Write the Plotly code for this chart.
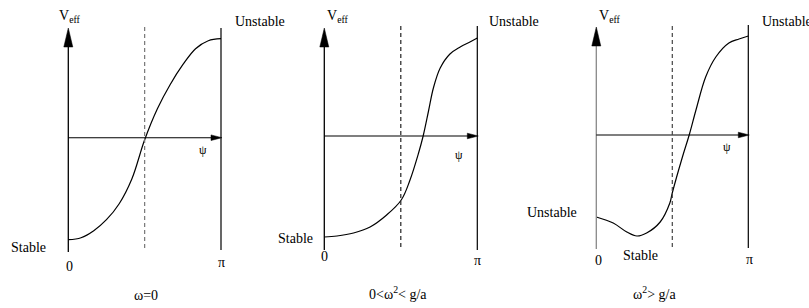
import math
import plotly.graph_objects as go

# ---------------- data ----------------
psi1 = [0, 0.262, 0.524, 0.785, 1.047, 1.309, 1.571, 1.833, 2.094, 2.356, 2.618, 2.880, 3.1416]
v1 = [-1.02, -1.00, -0.93, -0.82, -0.66, -0.41, -0.02, 0.29, 0.53, 0.73, 0.89, 0.97, 0.99]

psi2 = [0, 0.26, 0.60, 0.94, 1.28, 1.58, 1.76, 1.93, 2.03, 2.14, 2.24, 2.38, 2.58, 2.79, 2.99, 3.1416]
v2 = [-1.01, -1.0, -0.97, -0.91, -0.79, -0.64, -0.44, -0.18, 0.0, 0.25, 0.48, 0.68, 0.82, 0.89, 0.94, 0.98]

psi3 = [0, 0.35, 0.63, 0.84, 1.04, 1.32, 1.52, 1.57, 1.78, 1.92, 2.06, 2.26, 2.47, 2.74, 2.95, 3.1416]
v3 = [-0.82, -0.88, -0.97, -1.01, -0.98, -0.87, -0.68, -0.58, -0.22, 0.0, 0.25, 0.58, 0.78, 0.92, 0.96, 0.99]

captions = ["ω=0", "0&lt;ω<sup>2</sup>&lt; g/a", "ω<sup>2</sup>&gt; g/a"]
tick_left = "0"
tick_right = "π"
dashed_at = math.pi / 2

# ---------------- layout geometry (pixels) ----------------
W, H = 809, 308
FONT = "Liberation Serif"
panels = [
    dict(x0=68.3, xp=221.0, z=137.7, tip=28, ybot=252, rtop=28, rbot=250, dtop=27, dbot=248,
         yaxcol="#000", dcol="#777", psi=psi1, v=v1),
    dict(x0=324.3, xp=477.3, z=136.0, tip=28, ybot=250, rtop=26, rbot=250, dtop=26, dbot=247,
         yaxcol="#000", dcol="#222", psi=psi2, v=v2),
    dict(x0=596.3, xp=748.3, z=135.0, tip=27, ybot=249, rtop=25, rbot=248, dtop=25, dbot=247,
         yaxcol="#888", dcol="#444", psi=psi3, v=v3),
]
YS = 100.0  # pixels per unit of V

fig = go.Figure()
shapes = []
layout_axes = {}

for i, p in enumerate(panels):
    k = "" if i == 0 else str(i + 1)
    xr, yr = "x" + k, "y" + k
    s = (p["xp"] - p["x0"]) / math.pi
    z = p["z"]
    layout_axes["xaxis" + k] = dict(domain=[0, 1], range=[-p["x0"] / s, (W - p["x0"]) / s],
                                    visible=False, fixedrange=True, anchor=yr)
    layout_axes["yaxis" + k] = dict(domain=[0, 1], range=[-(H - z) / YS, z / YS],
                                    visible=False, fixedrange=True, anchor=xr)

    def X(px, s=s, p=p):
        return (px - p["x0"]) / s

    def Y(py, z=z):
        return (z - py) / YS

    fig.add_trace(go.Scatter(x=p["psi"], y=p["v"], mode="lines", xaxis=xr, yaxis=yr,
                             line=dict(color="black", width=1.2, shape="spline", smoothing=1.0),
                             hoverinfo="skip", showlegend=False))

    # vertical axis (V_eff) with filled arrow head
    shapes.append(dict(type="line", xref=xr, yref=yr, x0=0, x1=0, y0=Y(p["ybot"]), y1=Y(p["tip"] + 18),
                       line=dict(color=p["yaxcol"], width=1.3)))
    shapes.append(dict(type="path", xref=xr, yref=yr,
                       path=f"M {X(p['x0']-4.5)},{Y(p['tip']+19)} L {0},{Y(p['tip'])} L {X(p['x0']+4.5)},{Y(p['tip']+19)} Z",
                       fillcolor="black", line=dict(color="black", width=0.5)))
    # horizontal psi axis with arrow head
    shapes.append(dict(type="line", xref=xr, yref=yr, x0=0, x1=X(p["xp"] - 6), y0=0, y1=0,
                       line=dict(color="black", width=1.1)))
    shapes.append(dict(type="path", xref=xr, yref=yr,
                       path=f"M {X(p['xp']-10)},{Y(z-2.8)} L {X(p['xp']+1)},{0} L {X(p['xp']-10)},{Y(z+2.8)} Z",
                       fillcolor="black", line=dict(color="black", width=0.5)))
    # vertical line at psi = pi
    shapes.append(dict(type="line", xref=xr, yref=yr, x0=math.pi, x1=math.pi,
                       y0=Y(p["rbot"]), y1=Y(p["rtop"]), line=dict(color="black", width=1.2)))
    # dashed line at psi = pi/2
    shapes.append(dict(type="line", xref=xr, yref=yr, x0=dashed_at, x1=dashed_at,
                       y0=Y(p["dbot"]), y1=Y(p["dtop"]),
                       line=dict(color=p["dcol"], width=1.2, dash="4px,3px")))

fig.update_layout(**layout_axes)


def ann(text, px, py, size=14, xanchor="center", yanchor="middle"):
    fig.add_annotation(text=text, x=px / W, y=1 - py / H, xref="paper", yref="paper",
                       showarrow=False, xanchor=xanchor, yanchor=yanchor,
                       font=dict(family=FONT, size=size, color="black"))


# panel 1
ann("V<sub>eff</sub>", 57, 16, xanchor="left")
ann("Unstable", 233, 22, xanchor="left")
ann("Stable", 28, 247)
ann(tick_left, 69, 266)
ann(tick_right, 221, 262)
ann("ψ", 203, 150, size=12)
ann(captions[0], 146, 295)
# panel 2
ann("V<sub>eff</sub>", 325, 16, xanchor="left")
ann("Unstable", 487, 22, xanchor="left")
ann("Stable", 295, 238)
ann(tick_left, 324, 256)
ann(tick_right, 477, 260)
ann("ψ", 459, 155, size=12)
ann(captions[1], 398, 293)
# panel 3
ann("V<sub>eff</sub>", 597, 16, xanchor="left")
ann("Unstable", 760, 22, xanchor="left")
ann("Unstable", 552, 212)
ann("Stable", 640, 255)
ann(tick_left, 598, 260)
ann(tick_right, 749, 259)
ann("ψ", 727, 147, size=12)
ann(captions[2], 654, 293)

fig.update_layout(width=W, height=H, margin=dict(l=0, r=0, t=0, b=0),
                  paper_bgcolor="white", plot_bgcolor="rgba(0,0,0,0)",
                  shapes=shapes, showlegend=False)

fig.write_html("out.html", config={"displayModeBar": False},
               post_script="document.body.style.margin='0px';")
